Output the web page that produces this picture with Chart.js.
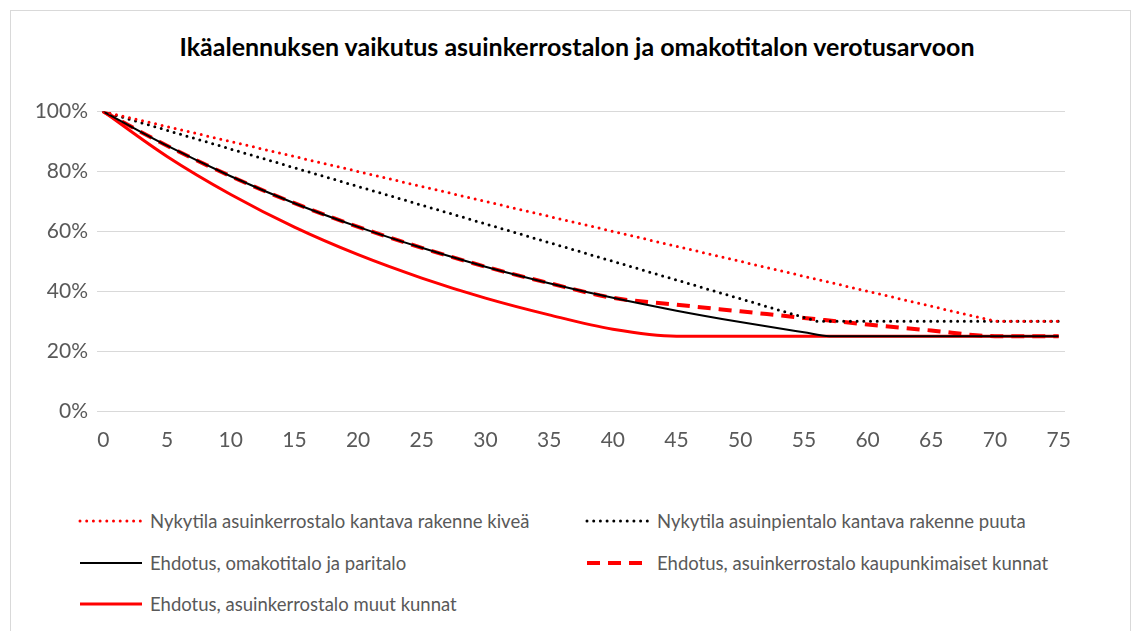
<!DOCTYPE html>
<html lang="fi">
<head>
    <meta charset="UTF-8">
    <title>Ikäalennuksen vaikutus</title>
    <script src="https://cdn.jsdelivr.net/npm/chart.js@4.4.1/dist/chart.umd.min.js"></script>
    <style>
        body { margin: 0; background: #fff; font-family: Lato, "Open Sans", sans-serif; }
        #frame { position: absolute; left: 10px; top: 10px; width: 1119px; height: 640px; border: 1px solid #d9d9d9; }
        #title { position: absolute; left: 0; width: 1154px; top: 31px; text-align: center; font-size: 25px; font-weight: bold; color: #000; }
        #wrap { position: absolute; left: 0; top: 90px; width: 1139px; height: 380px; }
        .leg { position: absolute; display: flex; align-items: center; font-size: 18.5px; color: #595959; height: 24px; }
        .leg canvas { margin-right: 6px; }
    </style>
</head>
<body>
    <div id="frame"></div>
    <div id="title">Ikäalennuksen vaikutus asuinkerrostalon ja omakotitalon verotusarvoon</div>
    <div id="wrap"><canvas id="chart"></canvas></div>
    <div id="legend"></div>

    <script>
        // Arvot luettu kuvasta (vuodet, prosentit)
        const xTicks = [0, 5, 10, 15, 20, 25, 30, 35, 40, 45, 50, 55, 60, 65, 70, 75];

        const kiviX = [0, 70, 75];
        const kiviY = [100, 30, 30];

        const puuX = [0, 56, 75];
        const puuY = [100, 30, 30];

        const omakotiX = [0, 5, 10, 15, 20, 25, 30, 35, 40, 45, 50, 55, 57, 75];
        const omakotiY = [100, 88.6, 78.4, 69.4, 61.5, 54.5, 48.2, 42.7, 37.8, 33.5, 29.7, 26.3, 25, 25];

        const kaupunkiX = [0, 5, 10, 15, 20, 25, 30, 35, 40, 45, 50, 55, 60, 65, 70, 75];
        const kaupunkiY = [100, 88.6, 78.4, 69.4, 61.5, 54.5, 48.2, 42.7, 37.8, 35.5, 33.3, 31.1, 28.9, 26.9, 25, 25];

        const muutX = [0, 5, 10, 15, 20, 25, 30, 35, 40, 45, 75];
        const muutY = [100, 85, 72.3, 61.4, 52.2, 44.4, 37.7, 32.1, 27.3, 25, 25];

        const pts = (xs, ys) => xs.map((x, i) => ({ x: x, y: ys[i] }));

        const datasets = [
            { label: 'Nykytila asuinkerrostalo kantava rakenne kiveä', data: pts(kiviX, kiviY),
              borderColor: '#ff0000', borderWidth: 3, borderDash: [0, 6.7], borderCapStyle: 'round' },
            { label: 'Nykytila asuinpientalo kantava rakenne puuta', data: pts(puuX, puuY),
              borderColor: '#000000', borderWidth: 3, borderDash: [0, 6.7], borderCapStyle: 'round' },
            { label: 'Ehdotus, omakotitalo ja paritalo', data: pts(omakotiX, omakotiY),
              borderColor: '#000000', borderWidth: 2, cubicInterpolationMode: 'monotone' },
            { label: 'Ehdotus, asuinkerrostalo kaupunkimaiset kunnat', data: pts(kaupunkiX, kaupunkiY),
              borderColor: '#ff0000', borderWidth: 4, borderDash: [13, 8], cubicInterpolationMode: 'monotone' },
            { label: 'Ehdotus, asuinkerrostalo muut kunnat', data: pts(muutX, muutY),
              borderColor: '#ff0000', borderWidth: 3, cubicInterpolationMode: 'monotone' }
        ];

        const tickFont = { family: 'Lato', size: 21 };

        new Chart(document.getElementById('chart'), {
            type: 'line',
            data: { datasets: datasets },
            options: {
                responsive: true,
                maintainAspectRatio: false,
                animation: false,
                layout: { padding: { top: 21, right: 74, left: 0, bottom: 0 } },
                elements: { point: { radius: 0 } },
                plugins: { legend: { display: false }, tooltip: { enabled: false } },
                scales: {
                    x: {
                        type: 'linear', min: -0.5, max: 75.5,
                        afterBuildTicks: s => { s.ticks = xTicks.map(v => ({ value: v })); },
                        afterFit: s => { s.height = 59; },
                        grid: { display: false, drawTicks: false },
                        border: { display: false },
                        ticks: { color: '#595959', font: tickFont, padding: 17, maxRotation: 0 }
                    },
                    y: {
                        min: 0, max: 100,
                        afterFit: s => { s.width = 97; },
                        grid: { color: '#d9d9d9', lineWidth: 1, drawTicks: false },
                        border: { display: false },
                        ticks: { stepSize: 20, color: '#595959', font: tickFont, padding: 9, callback: v => v + '%' }
                    }
                }
            }
        });

        // Selite: kaksi saraketta, rakennetaan sarjoista
        const legendPos = [[78, 509], [585, 509], [78, 551], [585, 551], [78, 592]];
        const legend = document.getElementById('legend');
        datasets.forEach((ds, i) => {
            const item = document.createElement('div');
            item.className = 'leg';
            item.style.left = legendPos[i][0] + 'px';
            item.style.top = legendPos[i][1] + 'px';
            const c = document.createElement('canvas');
            c.width = 66; c.height = 24;
            const g = c.getContext('2d');
            g.strokeStyle = ds.borderColor;
            g.lineWidth = ds.borderWidth;
            g.lineCap = ds.borderCapStyle || 'butt';
            g.setLineDash(ds.borderDash || []);
            g.beginPath(); g.moveTo(2, 12); g.lineTo(64, 12); g.stroke();
            item.appendChild(c);
            const t = document.createElement('span');
            t.textContent = ds.label;
            item.appendChild(t);
            legend.appendChild(item);
        });
    </script>
</body>
</html>
